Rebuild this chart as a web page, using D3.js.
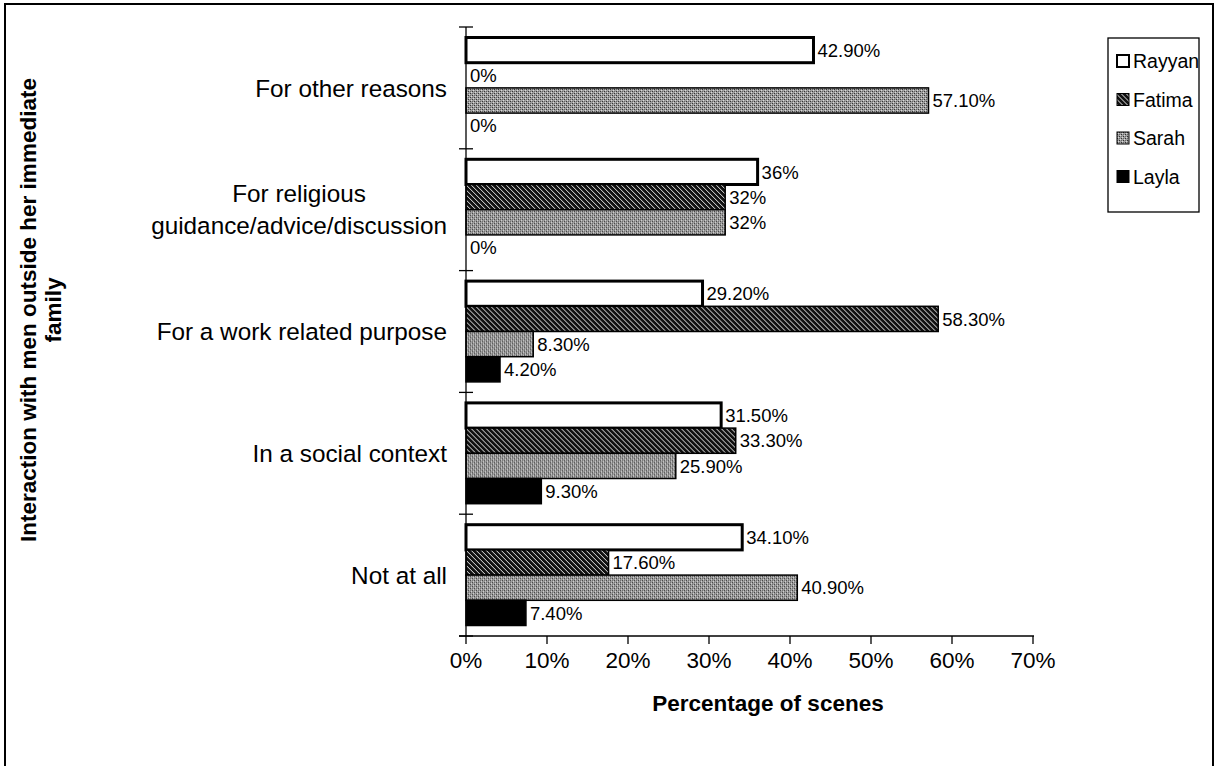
<!DOCTYPE html>
<html>
<head>
<meta charset="utf-8">
<script src="https://cdn.jsdelivr.net/npm/d3@7/dist/d3.min.js"></script>
<style>
  html, body { margin: 0; padding: 0; background: #fff; }
  svg { display: block; font-family: "Liberation Sans", Arial, sans-serif; }
</style>
</head>
<body>
<svg id="chart" width="1216" height="766"></svg>
<script>
// Interaction categories, top to bottom
const categories = [
  "For other reasons",
  "For religious guidance/advice/discussion",
  "For a work related purpose",
  "In a social context",
  "Not at all"
];
const categoryLines = [
  ["For other reasons"],
  ["For religious", "guidance/advice/discussion"],
  ["For a work related purpose"],
  ["In a social context"],
  ["Not at all"]
];
const seriesNames = ["Rayyan", "Fatima", "Sarah", "Layla"];
// Percentage of scenes for each character, in category order
const rayyan = [42.9, 36, 29.2, 31.5, 34.1];
const fatima = [0, 32, 58.3, 33.3, 17.6];
const sarah  = [57.1, 32, 8.3, 25.9, 40.9];
const layla  = [0, 0, 4.2, 9.3, 7.4];
const xTicks = [0, 10, 20, 30, 40, 50, 60, 70];
const xTitle = "Percentage of scenes";
const yTitleLines = ["Interaction with men outside her immediate", "family"];

const seriesValues = [rayyan, fatima, sarah, layla];
const rows = categories.map((c, i) => ({
  category: c,
  lines: categoryLines[i],
  values: seriesNames.map((s, j) => ({ series: s, value: seriesValues[j][i] }))
}));

const svg = d3.select("#chart");

// ---- fill patterns ----
const defs = svg.append("defs");
const hatch = defs.append("pattern").attr("id", "hatch")
  .attr("patternUnits", "userSpaceOnUse").attr("width", 5).attr("height", 5);
hatch.append("rect").attr("width", 5).attr("height", 5).attr("fill", "#111");
hatch.append("path").attr("d", "M-1,-1 L6,6 M-1,4 L1,6 M4,-1 L6,1")
  .attr("stroke", "#e8e8e8").attr("stroke-width", 1);

const dots = defs.append("pattern").attr("id", "dots")
  .attr("patternUnits", "userSpaceOnUse").attr("width", 4).attr("height", 4);
dots.append("rect").attr("width", 4).attr("height", 4).attr("fill", "#a0a0a0");
[[0, 0, "#333"], [2, 2, "#333"], [2, 0, "#666"], [0, 2, "#666"], [1, 3, "#d8d8d8"], [3, 1, "#d8d8d8"]]
  .forEach(([px, py, c]) => dots.append("rect").attr("x", px).attr("y", py)
    .attr("width", 1).attr("height", 1).attr("fill", c));

const fills = { Rayyan: "#fff", Fatima: "url(#hatch)", Sarah: "url(#dots)", Layla: "#000" };

// ---- outer frame ----
svg.append("rect").attr("x", 5).attr("y", 4).attr("width", 1208).attr("height", 770)
  .attr("fill", "none").attr("stroke", "#000").attr("stroke-width", 2);

// ---- scales ----
const plot = { left: 466, right: 1033, top: 27, bottom: 636 };
const x = d3.scaleLinear().domain([0, 70]).range([plot.left, plot.right]);
const y = d3.scaleBand().domain(categories).range([plot.top, plot.bottom]).padding(0);
const inner = d3.scaleBand().domain(seriesNames)
  .range([10.5, y.bandwidth() - 10.5]).padding(0);

const fmt = v => (Number.isInteger(v) ? v : v.toFixed(2)) + "%";

// ---- bars ----
const groups = svg.append("g").selectAll("g").data(rows).join("g")
  .attr("transform", d => `translate(0,${y(d.category)})`);

groups.selectAll("rect").data(d => d.values).join("rect")
  .attr("x", x(0))
  .attr("y", d => inner(d.series))
  .attr("width", d => x(d.value) - x(0))
  .attr("height", inner.bandwidth())
  .attr("fill", d => fills[d.series])
  .attr("stroke", "#000")
  .attr("stroke-width", d => d.value === 0 ? 0 : (d.series === "Rayyan" ? 3 : 1.5));

groups.selectAll("text.val").data(d => d.values).join("text")
  .attr("class", "val")
  .attr("x", d => x(d.value) + 4)
  .attr("y", d => inner(d.series) + inner.bandwidth() / 2)
  .attr("dy", "0.36em")
  .attr("font-size", 18.5)
  .attr("fill", "#000")
  .text(d => fmt(d.value));

// ---- category labels (multi-line, centred, right edge at 447) ----
const catLabels = svg.append("g").selectAll("text").data(rows).join("text")
  .attr("text-anchor", "middle")
  .attr("font-size", 24.3)
  .attr("fill", "#000");
catLabels.each(function (d) {
  const t = d3.select(this);
  const lineH = 32;
  const n = d.lines.length;
  const cy = y(d.category) + y.bandwidth() / 2;
  d.lines.forEach((l, i) => {
    t.append("tspan").attr("y", cy + (i - (n - 1) / 2) * lineH).attr("dy", "0.36em").text(l);
  });
  const w = d3.max(t.selectAll("tspan").nodes(), nd => nd.getComputedTextLength());
  t.selectAll("tspan").attr("x", 447 - w / 2);
});

// ---- axes ----
const axisG = svg.append("g").attr("stroke", "#000").attr("stroke-width", 1.3);
// y axis line and cross ticks at category boundaries
axisG.append("line").attr("x1", x(0)).attr("x2", x(0)).attr("y1", plot.top).attr("y2", plot.bottom);
const bounds = categories.map(c => y(c)).concat([plot.bottom]);
axisG.selectAll("line.yt").data(bounds).join("line").attr("class", "yt")
  .attr("x1", x(0) - 7).attr("x2", x(0) + 7).attr("y1", d => d).attr("y2", d => d);
// x axis
axisG.append("line").attr("x1", x(0) - 7).attr("x2", x(70) + 1).attr("y1", plot.bottom).attr("y2", plot.bottom);
axisG.selectAll("line.xt").data(xTicks).join("line").attr("class", "xt")
  .attr("x1", d => x(d)).attr("x2", d => x(d)).attr("y1", plot.bottom).attr("y2", plot.bottom + 8);

svg.append("g").selectAll("text").data(xTicks).join("text")
  .attr("x", d => x(d)).attr("y", 668)
  .attr("text-anchor", "middle").attr("font-size", 22.5).attr("fill", "#000")
  .text(d => d + "%");

// ---- axis titles ----
svg.append("text").attr("x", 768).attr("y", 711)
  .attr("text-anchor", "middle").attr("font-size", 22.5).attr("font-weight", "bold")
  .text(xTitle);

const yt = svg.append("text")
  .attr("transform", "translate(40,310) rotate(-90)")
  .attr("text-anchor", "middle").attr("font-size", 22.5).attr("font-weight", "bold");
yTitleLines.forEach((l, i) => {
  yt.append("tspan").attr("x", 0).attr("y", (i - 0.5) * 25).attr("dy", "0.36em").text(l);
});

// ---- legend ----
const lg = svg.append("g");
lg.append("rect").attr("x", 1108).attr("y", 38).attr("width", 91).attr("height", 174)
  .attr("fill", "#fff").attr("stroke", "#000").attr("stroke-width", 1.3);
const li = lg.selectAll("g").data(seriesNames).join("g")
  .attr("transform", (d, i) => `translate(1117,${61 + i * 38.5})`);
li.append("rect").attr("x", 0).attr("y", -6).attr("width", 12).attr("height", 12)
  .attr("fill", d => fills[d]).attr("stroke", "#000").attr("stroke-width", d => d === "Rayyan" ? 2 : 1);
li.append("text").attr("x", 16).attr("dy", "0.36em").attr("font-size", 19.5).text(d => d);
</script>
</body>
</html>
